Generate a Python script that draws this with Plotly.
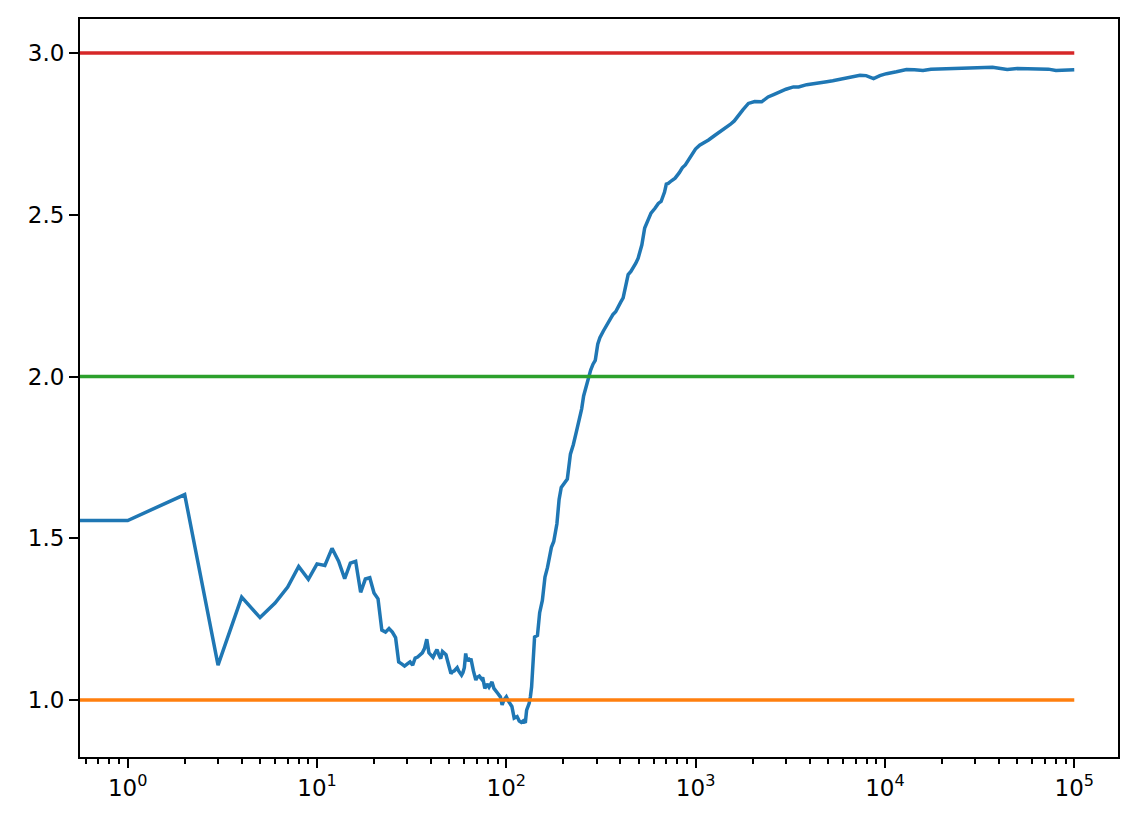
import plotly.graph_objects as go

# step index (0.5 stands in for step 0, which a log axis cannot show) and running average reward
steps = [0.5, 1, 2, 3, 4, 5, 6, 7, 8, 9, 10, 11, 12, 13, 14, 15, 16, 17, 18, 19, 20,
         21, 22, 23, 24, 25, 26, 27, 28, 29, 30, 31, 32, 33, 34, 35, 36, 37, 38, 39, 40,
         41, 42, 43, 44, 45, 46, 47, 48, 49, 50, 51, 52, 53, 55, 56, 58, 59, 60, 61, 62,
         63, 64, 65, 67, 69, 70, 72, 74, 75, 77, 79, 81, 84, 86, 88, 90, 93, 95, 97, 100,
         103, 107, 110, 114, 117, 120, 123, 126, 128, 132, 134, 136, 141, 146, 150, 155,
         160, 165, 173, 178, 185, 190, 195, 203, 210, 218, 226, 235, 244, 250, 256, 263,
         270, 279, 287, 295, 304, 312, 325, 337, 350, 366, 378, 390, 402, 414, 428, 440,
         455, 468, 483, 497, 508, 520, 538, 560, 581, 610, 635, 657, 685, 700, 717, 745,
         779, 820, 850, 882, 940, 998, 1050, 1110, 1170, 1260, 1351, 1430, 1523, 1600,
         1680, 1780, 1900, 2050, 2233, 2413, 2600, 2786, 3000, 3283, 3500, 3860, 4300,
         4929, 5300, 5785, 6500, 7384, 7950, 8708, 9400, 10190, 11500, 12990, 14300,
         15880, 17500, 19180, 22000, 25000, 29200, 33000, 37000, 40000, 44230, 50000,
         57000, 66000, 73000, 80000, 90000, 100000]
avg_reward = [1.555, 1.555, 1.635, 1.108, 1.318, 1.255, 1.300, 1.349, 1.413, 1.373, 1.421,
              1.416, 1.469, 1.429, 1.375, 1.423, 1.429, 1.333, 1.374, 1.378, 1.331,
              1.313, 1.216, 1.210, 1.221, 1.210, 1.193, 1.118, 1.112, 1.105, 1.112,
              1.118, 1.108, 1.130, 1.133, 1.140, 1.146, 1.160, 1.188, 1.146, 1.140,
              1.132, 1.145, 1.156, 1.140, 1.128, 1.150, 1.146, 1.140, 1.120, 1.095,
              1.082, 1.088, 1.090, 1.100, 1.090, 1.077, 1.085, 1.100, 1.144, 1.120,
              1.130, 1.120, 1.128, 1.090, 1.062, 1.070, 1.074, 1.065, 1.070, 1.036,
              1.050, 1.040, 1.056, 1.036, 1.030, 1.021, 1.010, 0.985, 1.000, 1.010,
              0.995, 0.980, 0.944, 0.949, 0.935, 0.931, 0.936, 0.930, 0.969, 0.990,
              1.010, 1.041, 1.195, 1.200, 1.270, 1.308, 1.380, 1.410, 1.472, 1.490,
              1.545, 1.620, 1.657, 1.670, 1.683, 1.760, 1.790, 1.832, 1.868, 1.900,
              1.940, 1.965, 1.998, 2.020, 2.038, 2.050, 2.100, 2.120, 2.140, 2.156,
              2.175, 2.192, 2.200, 2.217, 2.230, 2.243, 2.290, 2.315, 2.325, 2.335,
              2.350, 2.366, 2.390, 2.407, 2.459, 2.480, 2.505, 2.520, 2.535, 2.541,
              2.570, 2.595, 2.597, 2.605, 2.613, 2.630, 2.645, 2.654, 2.680, 2.703,
              2.715, 2.722, 2.731, 2.745, 2.757, 2.768, 2.779, 2.790, 2.808, 2.825,
              2.844, 2.850, 2.849, 2.864, 2.872, 2.880, 2.888, 2.895, 2.895, 2.902,
              2.905, 2.911, 2.914, 2.919, 2.925, 2.931, 2.930, 2.921, 2.930, 2.936,
              2.942, 2.949, 2.948, 2.946, 2.950, 2.951, 2.951, 2.953, 2.956, 2.955,
              2.956, 2.953, 2.949, 2.952, 2.951, 2.951, 2.950, 2.946, 2.948, 2.948]

# true arm means drawn as reference lines
arm_means = [1.0, 2.0, 3.0]
arm_colors = ["#ff7f0e", "#2ca02c", "#d62728"]

x_tick_vals = [1, 10, 100, 1000, 10000, 100000]
x_tick_text = ["10<sup>0</sup>", "10<sup>1</sup>", "10<sup>2</sup>",
               "10<sup>3</sup>", "10<sup>4</sup>", "10<sup>5</sup>"]
y_tick_vals = [1.0, 1.5, 2.0, 2.5, 3.0]
y_tick_text = ["1.0", "1.5", "2.0", "2.5", "3.0"]

minor_vals = [m * 10 ** k for k in range(-1, 5) for m in range(2, 10)]

fig = go.Figure()
fig.add_trace(go.Scatter(x=steps, y=avg_reward, mode="lines",
                         line=dict(color="#1f77b4", width=3.5), showlegend=False))
for m, c in zip(arm_means, arm_colors):
    fig.add_trace(go.Scatter(x=[steps[0], steps[-1]], y=[m, m], mode="lines",
                             line=dict(color=c, width=3.5), showlegend=False))

axis_common = dict(showgrid=False, zeroline=False, showline=True, linecolor="black",
                   linewidth=2, mirror=True, ticks="outside", ticklen=9, tickwidth=2,
                   tickcolor="black",
                   tickfont=dict(family="DejaVu Sans", size=23, color="black"))

fig.update_layout(
    width=1133, height=816,
    margin=dict(l=72, r=23, t=9, b=67),
    paper_bgcolor="white", plot_bgcolor="white",
    xaxis=dict(type="log", range=[-0.252, 5.231], tickvals=x_tick_vals,
               ticktext=x_tick_text,
               minor=dict(ticks="outside", ticklen=5, tickwidth=1.5, tickcolor="black",
                          tickvals=minor_vals, showgrid=False),
               **axis_common),
    yaxis=dict(range=[0.824, 3.105], tickvals=y_tick_vals, ticktext=y_tick_text,
               **axis_common),
)

fig.write_html("out.html")
